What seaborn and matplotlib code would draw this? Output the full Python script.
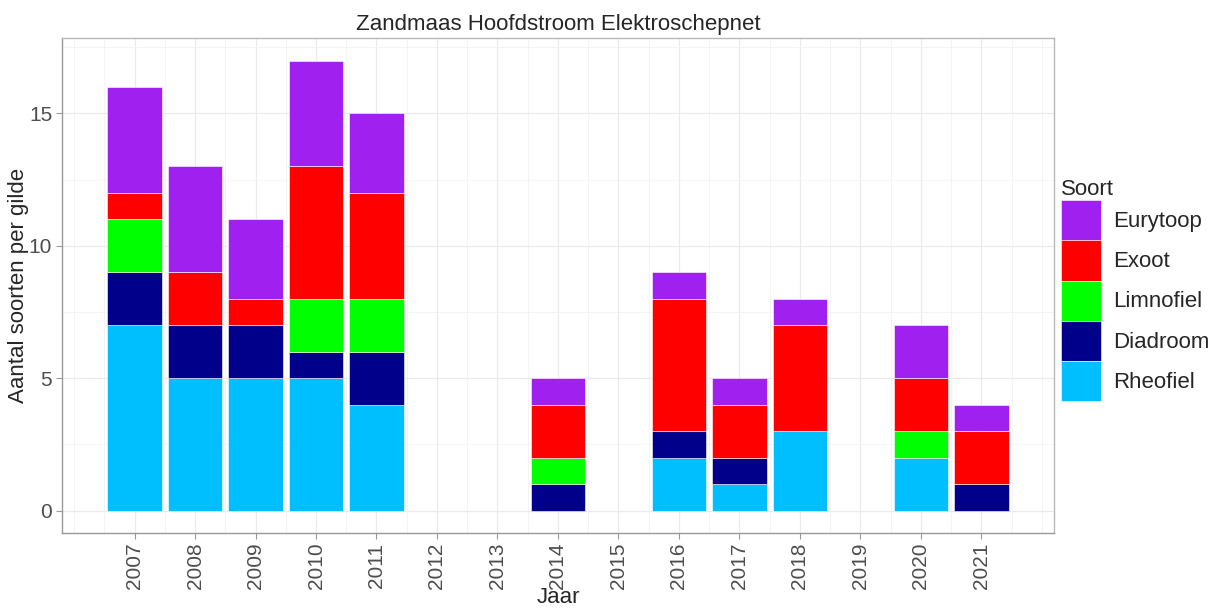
import numpy as np
import pandas as pd
import matplotlib
matplotlib.use("Agg")
import matplotlib.pyplot as plt
import seaborn as sns

# species count per guild per year (Zandmaas, hoofdstroom, elektroschepnet)
jaren = [2007, 2008, 2009, 2010, 2011, 2014, 2016, 2017, 2018, 2020, 2021]
rheofiel = [7, 5, 5, 5, 4, 0, 2, 1, 3, 2, 0]
diadroom = [2, 2, 2, 1, 2, 1, 1, 1, 0, 0, 1]
limnofiel = [2, 0, 0, 2, 2, 1, 0, 0, 0, 1, 0]
exoot = [1, 2, 1, 5, 4, 2, 5, 2, 4, 2, 2]
eurytoop = [4, 4, 3, 4, 3, 1, 1, 1, 1, 2, 1]

soorten = ["Eurytoop", "Exoot", "Limnofiel", "Diadroom", "Rheofiel"]
kleuren = {"Eurytoop": "#A020F0", "Exoot": "#FF0000", "Limnofiel": "#00FF00",
           "Diadroom": "#00008B", "Rheofiel": "#00BFFF"}
tick_jaren = list(range(2007, 2022))

series = {"Eurytoop": eurytoop, "Exoot": exoot, "Limnofiel": limnofiel,
          "Diadroom": diadroom, "Rheofiel": rheofiel}
df = pd.concat([pd.DataFrame({"Jaar": jaren, "Aantal": v, "Soort": k})
                for k, v in series.items()], ignore_index=True)

sns.set_theme(style="white")
plt.rcParams["font.family"] = ["Liberation Sans", "DejaVu Sans"]

fs = 16
fig, ax = plt.subplots(figsize=(12.22, 6.12), dpi=100)
plt.subplots_adjust(left=0.0507, right=0.8625, top=0.9379, bottom=0.129)

sns.histplot(data=df, x="Jaar", weights="Aantal", hue="Soort", hue_order=soorten,
             palette=kleuren, multiple="stack", discrete=True, shrink=0.9,
             alpha=1, edgecolor="white", linewidth=0.4, ax=ax, zorder=3)
# empty years still get a bin; hide their outline
for p in ax.patches:
    if p.get_height() == 0:
        p.set_linewidth(0)

ax.set_xlim(2005.8, 2022.2)
ax.set_ylim(-0.85, 17.85)
ax.set_xticks(tick_jaren)
ax.set_xticklabels([str(j) for j in tick_jaren], rotation=90)
ax.set_xticks([x for x in np.arange(2006, 2022.01, 0.5) if x not in tick_jaren], minor=True)
ax.set_yticks([0, 5, 10, 15])
ax.set_yticks([2.5, 7.5, 12.5, 17.5], minor=True)
ax.grid(which="major", color="#EBEBEB", linewidth=0.9, zorder=0)
ax.grid(which="minor", color="#F3F3F3", linewidth=0.6, zorder=0)
ax.set_axisbelow(True)

for s in ax.spines.values():
    s.set_color("#B8B8B8")
    s.set_linewidth(1.0)
ax.spines["left"].set_color("#999999")
ax.spines["bottom"].set_color("#999999")

ax.tick_params(axis="both", which="major", length=4, width=0.8, color="#999999",
               labelsize=15, labelcolor="#4D4D4D", pad=3, bottom=True, left=True)
ax.tick_params(axis="both", which="minor", length=0)

ax.set_xlabel("Jaar", fontsize=fs, labelpad=-2)
ax.set_ylabel("Aantal soorten per gilde", fontsize=fs)
ax.yaxis.set_label_coords(-0.033, 0.5)
ax.set_title("Zandmaas Hoofdstroom Elektroschepnet", fontsize=fs, pad=6)

sns.move_legend(ax, "upper left", bbox_to_anchor=(1.0, 0.728), frameon=False,
                title="Soort", fontsize=fs, title_fontsize=fs,
                handlelength=1.8, handleheight=2.4, labelspacing=0.0,
                handletextpad=0.55, borderpad=0.3, borderaxespad=0.0)
leg = ax.get_legend()
leg._legend_box.align = "left"
for h in leg.legend_handles:
    h.set_edgecolor("white")
    h.set_linewidth(0.4)

fig.savefig("out.png", dpi=100)
